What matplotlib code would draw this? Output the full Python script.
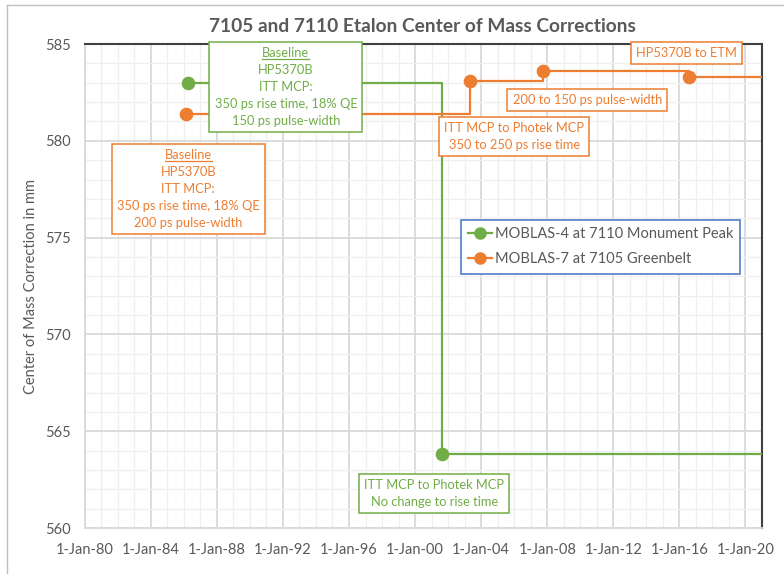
import matplotlib
matplotlib.use('Agg')
import matplotlib.pyplot as plt
import matplotlib.dates as mdates
from matplotlib.lines import Line2D
from matplotlib.ticker import MultipleLocator
from datetime import datetime

plt.rcParams['font.family'] = ['Lato', 'DejaVu Sans']

GREEN = '#70AD47'
ORANGE = '#ED7D31'
GRAY = '#595959'

# MOBLAS-4 at 7110 Monument Peak
m4_dates = [datetime(1986, 4, 1), datetime(2001, 8, 20)]
m4_com = [583.0, 563.8]
# MOBLAS-7 at 7105 Greenbelt
m7_dates = [datetime(1986, 2, 10), datetime(2003, 5, 1),
            datetime(2007, 9, 20), datetime(2016, 8, 1)]
m7_com = [581.4, 583.1, 583.6, 583.3]

series_names = ['MOBLAS-4 at 7110 Monument Peak', 'MOBLAS-7 at 7105 Greenbelt']
x_start = datetime(1980, 1, 1)
x_end = datetime(2021, 1, 1)

# annotation text: (text, colour, underline first line, x, y in axes fraction)
notes = [
    ('Baseline\nHP5370B\nITT MCP:\n350 ps rise time, 18% QE\n150 ps pulse-width',
     GREEN, True, 0.297, 0.911),
    ('Baseline\nHP5370B\nITT MCP:\n350 ps rise time, 18% QE\n200 ps pulse-width',
     ORANGE, True, 0.153, 0.700),
    ('ITT MCP to Photek MCP\n350 to 250 ps rise time', ORANGE, False, 0.634, 0.809),
    ('200 to 150 ps pulse-width', ORANGE, False, 0.742, 0.884),
    ('HP5370B to ETM', ORANGE, False, 0.888, 0.981),
    ('ITT MCP to Photek MCP\nNo change to rise time', GREEN, False, 0.516, 0.072),
]

fig = plt.figure(figsize=(7.84, 5.74), dpi=100)
ax = fig.add_axes([0.108, 0.0801, 0.8639, 0.8432])

# step lines held to the right edge of the axis
ax.plot(m4_dates + [x_end], m4_com + [m4_com[-1]], drawstyle='steps-post',
        color=GREEN, lw=1.6, zorder=3)
ax.plot(m4_dates, m4_com, 'o', color=GREEN, ms=8.8, zorder=4)
ax.plot(m7_dates + [x_end], m7_com + [m7_com[-1]], drawstyle='steps-post',
        color=ORANGE, lw=1.6, zorder=3)
ax.plot(m7_dates, m7_com, 'o', color=ORANGE, ms=8.8, zorder=4)

ax.set_xlim(x_start, x_end)
ax.set_ylim(560, 585)
ax.xaxis.set_major_locator(mdates.YearLocator(4))
ax.xaxis.set_minor_locator(mdates.YearLocator(1))
ax.xaxis.set_major_formatter(mdates.DateFormatter('1-%b-%y'))
ax.yaxis.set_major_locator(MultipleLocator(5))
ax.yaxis.set_minor_locator(MultipleLocator(1))

ax.set_axisbelow(True)
ax.grid(which='major', color='#d9d9d9', lw=1.3)
ax.grid(which='minor', color='#efefef', lw=0.9)
ax.tick_params(which='both', length=0, labelsize=10.5, labelcolor=GRAY)
ax.tick_params(axis='x', pad=11)
ax.tick_params(axis='y', pad=10)

for s in ['top', 'right']:
    ax.spines[s].set_color('#404040')
    ax.spines[s].set_linewidth(1.5)
for s in ['left', 'bottom']:
    ax.spines[s].set_color('#d9d9d9')
    ax.spines[s].set_linewidth(1.3)

ax.set_ylabel('Center of Mass Correction in mm', fontsize=10.5, color=GRAY, labelpad=5)

fig.text(422 / 784, 1 - 27 / 574, '7105 and 7110 Etalon Center of Mass Corrections',
         ha='center', va='center', fontsize=13.8, weight='bold', color=GRAY)

# outer chart border
fig.add_artist(Line2D([7 / 784, 1], [1 - 5 / 574, 1 - 5 / 574], transform=fig.transFigure,
                      color='#bfbfbf', lw=1))
fig.add_artist(Line2D([7 / 784, 7 / 784], [0, 1 - 5 / 574], transform=fig.transFigure,
                      color='#bfbfbf', lw=1))

texts = []
for txt, col, ul, nx, ny in notes:
    t = ax.text(nx, ny, txt, transform=ax.transAxes, ha='center', va='center',
                multialignment='center', fontsize=9.3, color=col, linespacing=1.5,
                zorder=6, clip_on=False,
                bbox=dict(boxstyle='square,pad=0.4', fc='white', ec=col, lw=1.1))
    texts.append((t, ul, col))

handles = [Line2D([], [], color=GREEN, marker='o', ms=8, lw=1.6),
           Line2D([], [], color=ORANGE, marker='o', ms=8, lw=1.6)]
leg = ax.legend(handles, series_names, loc='upper left',
                bbox_to_anchor=(461 / 784, 1 - 220 / 574), bbox_transform=fig.transFigure,
                borderaxespad=0, fancybox=False, framealpha=1, edgecolor='#4472C4',
                fontsize=10.5, labelcolor=GRAY, handlelength=1.6, handletextpad=0.2,
                borderpad=0.5, labelspacing=0.75)
leg.get_frame().set_linewidth(1.1)
leg.set_zorder(6)

# underline the "Baseline" headings
fig.canvas.draw()
r = fig.canvas.get_renderer()
W, H = fig.bbox.width, fig.bbox.height
for t, ul, col in texts:
    if not ul:
        continue
    bb = t.get_window_extent(r)
    fp = t.get_fontproperties()
    _, lp_h, lp_d = r.get_text_width_height_descent('lp', fp, ismath=False)
    word = t.get_text().split('\n')[0]
    w, _, _ = r.get_text_width_height_descent(word, fp, ismath=False)
    baseline = bb.y1 - (lp_h - lp_d)
    y = baseline - 0.15 * r.points_to_pixels(t.get_fontsize())
    cx = (bb.x0 + bb.x1) / 2
    fig.add_artist(Line2D([(cx - w / 2) / W, (cx + w / 2) / W], [y / H, y / H],
                          transform=fig.transFigure, color=col, lw=0.9, zorder=10))

fig.savefig('out.png', dpi=100)
